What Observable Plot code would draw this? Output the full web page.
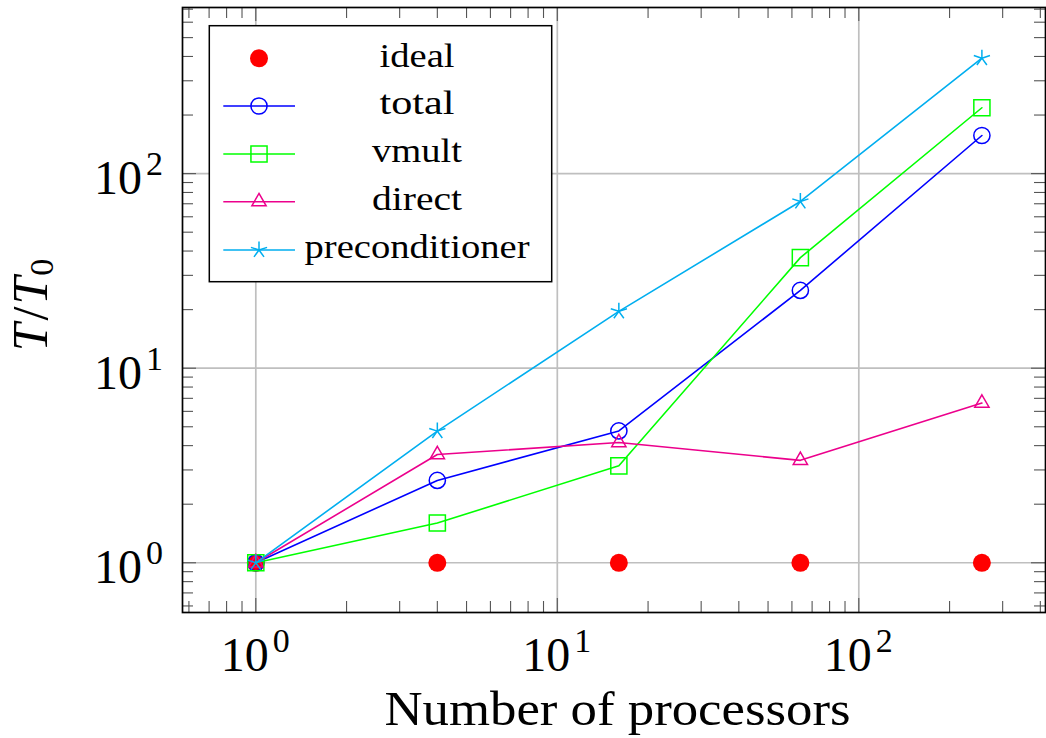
<!DOCTYPE html>
<html>
<head>
<meta charset="utf-8">
<script src="https://cdn.jsdelivr.net/npm/d3@7"></script>
<script src="https://cdn.jsdelivr.net/npm/@observablehq/plot@0.6"></script>
<style>
  html, body { margin: 0; padding: 0; background: #ffffff; }
  #chart svg { display: block; }
  #chart svg text, #chart svg tspan { font-family: "Liberation Serif", serif; }
</style>
</head>
<body>
<div id="chart"></div>
<script>
// Run times normalised by the single-processor time, T/T0
const processors = [1, 4, 16, 64, 256];
const ideal = [1, 1, 1, 1, 1];
const total = [1, 2.65, 4.76, 25.1, 157];
const vmult = [1, 1.60, 3.15, 37.0, 218];
const direct = [1, 3.60, 4.15, 3.36, 6.62];
const preconditioner = [1, 4.75, 19.6, 71.9, 392];

const seriesNames = ["ideal", "total", "vmult", "direct", "preconditioner"];
const seriesColors = ["#ff0000", "#0000ff", "#00ff00", "#ec008c", "#00aeef"];

// Decade ticks and their exponent labels
const xDecades = [1, 10, 100];
const xExponents = ["0", "1", "2"];
const yDecades = [1, 10, 100];
const yExponents = ["0", "1", "2"];

// Minor ticks between decades
const xMinor = [0.6, 0.7, 0.8, 0.9, 2, 3, 4, 5, 6, 7, 8, 9, 20, 30, 40, 50, 60, 70, 80, 90, 200, 300, 400];
const yMinor = [0.6, 0.7, 0.8, 0.9, 2, 3, 4, 5, 6, 7, 8, 9, 20, 30, 40, 50, 60, 70, 80, 90, 200, 300, 400, 500, 600, 700];

const xLabel = "Number of processors";

// Five-ray asterisk marker
const asterisk = {
  draw(context, size) {
    const r = Math.sqrt(size / Math.PI);
    for (let k = 0; k < 5; k++) {
      const a = Math.PI / 2 + k * 2 * Math.PI / 5;
      context.moveTo(0, 0);
      context.lineTo(r * Math.cos(a), -r * Math.sin(a));
    }
  }
};

const seriesValues = [ideal, total, vmult, direct, preconditioner];
const rows = seriesNames.map((name, k) =>
  processors.map((p, i) => ({series: name, p, v: seriesValues[k][i]})));

const markStyle = {
  total: {symbol: "circle", r: 8.1},
  vmult: {symbol: "square", r: 9.1},
  direct: {symbol: "triangle", r: 5.3},
  preconditioner: {symbol: asterisk, r: 8.5}
};

const W = 1046, H = 738;
const mL = 182, mR = 1, mT = 7, mB = 126;
const innerW = W - mL - mR, innerH = H - mT - mB;
const tickLen = 11, majorLen = 14;
const tickColor = "#555555";

// Ideal markers first, then each measured series as line + markers
const seriesMarks = [
  Plot.dot(rows[0], {x: "p", y: "v", r: 9, fill: "series", stroke: null})
];
seriesNames.slice(1).forEach((name, j) => {
  const data = rows[j + 1];
  const st = markStyle[name];
  seriesMarks.push(
    Plot.line(data, {x: "p", y: "v", stroke: "series", strokeWidth: 1.6}),
    Plot.dot(data, {x: "p", y: "v", symbol: st.symbol, r: st.r, stroke: "series", fill: "none", strokeWidth: 1.5})
  );
});

const chart = Plot.plot({
  width: W,
  height: H,
  marginLeft: mL,
  marginRight: mR,
  marginTop: mT,
  marginBottom: mB,
  x: {type: "log", domain: [0.5713, 416.1], axis: null},
  y: {type: "log", domain: [0.5552, 714], axis: null},
  color: {domain: seriesNames, range: seriesColors},
  style: {background: "#ffffff"},
  marks: [
    Plot.gridX(xDecades, {stroke: "#bfbfbf", strokeOpacity: 1, strokeWidth: 1.7}),
    Plot.gridY(yDecades, {stroke: "#bfbfbf", strokeOpacity: 1, strokeWidth: 1.7}),
    // minor ticks, inside the frame on all four sides
    Plot.tickX(xMinor, {x: d => d, insetTop: innerH - tickLen, stroke: tickColor, strokeWidth: 1.1}),
    Plot.tickX(xMinor, {x: d => d, insetBottom: innerH - tickLen, stroke: tickColor, strokeWidth: 1.1}),
    Plot.tickY(yMinor, {y: d => d, insetRight: innerW - tickLen, stroke: tickColor, strokeWidth: 1.1}),
    Plot.tickY(yMinor, {y: d => d, insetLeft: innerW - tickLen, stroke: tickColor, strokeWidth: 1.1}),
    // major ticks
    Plot.tickX(xDecades, {x: d => d, insetTop: innerH - majorLen, stroke: tickColor, strokeWidth: 1.1}),
    Plot.tickX(xDecades, {x: d => d, insetBottom: innerH - majorLen, stroke: tickColor, strokeWidth: 1.1}),
    Plot.tickY(yDecades, {y: d => d, insetRight: innerW - majorLen, stroke: tickColor, strokeWidth: 1.1}),
    Plot.tickY(yDecades, {y: d => d, insetLeft: innerW - majorLen, stroke: tickColor, strokeWidth: 1.1}),
    ...seriesMarks,
    Plot.frame({stroke: "#000000", strokeWidth: 1.7})
  ]
});

document.getElementById("chart").appendChild(chart);

const sx = chart.scale("x");
const sy = chart.scale("y");
const svg = d3.select(chart);
const g = svg.append("g").attr("fill", "#000000");

// x tick labels 10^k
xDecades.forEach((v, i) => {
  const t = g.append("text")
    .attr("x", sx.apply(v))
    .attr("y", 671)
    .attr("text-anchor", "middle")
    .style("font-size", "48px");
  t.append("tspan").text("10");
  t.append("tspan").attr("dx", 4).attr("dy", -19).style("font-size", "34px").text(xExponents[i]);
});

// y tick labels 10^k
yDecades.forEach((v, i) => {
  const t = g.append("text")
    .attr("x", 163)
    .attr("y", sy.apply(v) + 21)
    .attr("text-anchor", "end")
    .style("font-size", "48px");
  t.append("tspan").text("10");
  t.append("tspan").attr("dx", 4).attr("dy", -19).style("font-size", "34px").text(yExponents[i]);
});

// x axis label
g.append("text")
  .attr("x", 617.5)
  .attr("y", 725)
  .attr("text-anchor", "middle")
  .style("font-size", "48px")
  .attr("textLength", 466)
  .attr("lengthAdjust", "spacingAndGlyphs")
  .text(xLabel);

// y axis label T/T0
const yl = g.append("text")
  .attr("transform", "translate(47,305) rotate(-90)")
  .attr("text-anchor", "middle")
  .style("font-size", "50px");
yl.append("tspan").style("font-style", "italic").text("T");
yl.append("tspan").attr("dx", 3).text("/");
yl.append("tspan").attr("dx", 2).style("font-style", "italic").text("T");
yl.append("tspan").attr("dx", 1).attr("dy", 6).style("font-size", "34px").text("0");

// legend
const legend = g.append("g");
legend.append("rect")
  .attr("x", 209.3).attr("y", 25.7)
  .attr("width", 551.7 - 209.3).attr("height", 281.7 - 25.7)
  .attr("fill", "#ffffff").attr("stroke", "#000000").attr("stroke-width", 1.5);

const legendRowY = [58.3, 106, 154, 201.7, 250];
const legendTextLen = [75, 75, 90, 90, 225];
const symbolTypes = {circle: d3.symbolCircle, square: d3.symbolSquare, triangle: d3.symbolTriangle};

seriesNames.forEach((name, k) => {
  const cy = legendRowY[k];
  const color = seriesColors[k];
  if (name === "ideal") {
    legend.append("circle").attr("cx", 259).attr("cy", cy).attr("r", 9).attr("fill", color);
  } else {
    const st = markStyle[name];
    legend.append("line")
      .attr("x1", 223.3).attr("x2", 295).attr("y1", cy).attr("y2", cy)
      .attr("stroke", color).attr("stroke-width", 1.6);
    const type = typeof st.symbol === "string" ? symbolTypes[st.symbol] : st.symbol;
    legend.append("path")
      .attr("transform", `translate(259,${cy})`)
      .attr("d", d3.symbol().type(type).size(Math.PI * st.r * st.r)())
      .attr("fill", "none").attr("stroke", color).attr("stroke-width", 1.5);
  }
  legend.append("text")
    .attr("x", 417)
    .attr("y", cy + 8.4)
    .attr("text-anchor", "middle")
    .style("font-size", "34px")
    .attr("textLength", legendTextLen[k])
    .attr("lengthAdjust", "spacingAndGlyphs")
    .text(name);
});
</script>
</body>
</html>
